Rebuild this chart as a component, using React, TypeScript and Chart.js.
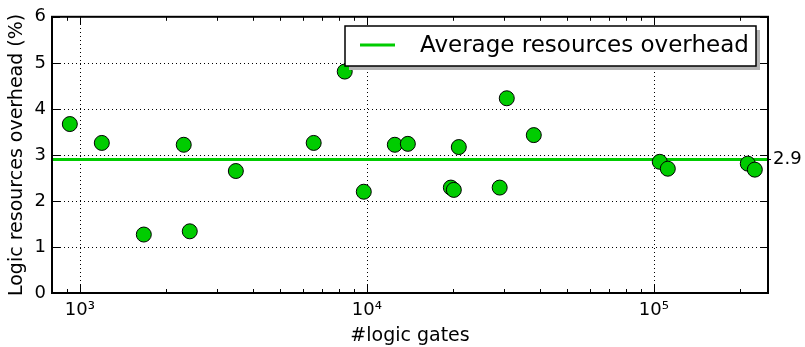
import React, { useEffect, useRef } from "react";
import { Chart, registerables } from "chart.js";

Chart.register(...registerables);

const gateCounts = [923, 1193, 1671, 2302, 2416, 3497, 6530, 8377, 9761, 12520, 13900, 19630, 20100, 20920, 29040, 30740, 38180, 104900, 111900, 212600, 224900];
const overheadPct = [3.67, 3.26, 1.27, 3.22, 1.34, 2.65, 3.26, 4.81, 2.2, 3.22, 3.24, 2.29, 2.24, 3.17, 2.29, 4.23, 3.43, 2.85, 2.7, 2.81, 2.68];
const averageOverhead = 2.9;
const xMajorTicks = [1000, 10000, 100000];
const xTickLabels = ["10³", "10⁴", "10⁵"];
const yTicks = [0, 1, 2, 3, 4, 5, 6];
const legendLabel = "Average resources overhead";
const xTitle = "#logic gates";
const yTitle = "Logic resources overhead (%)";
const X_MIN = 800;
const X_MAX = 250000;

const GREEN = "#00cc00";
const FONT = "DejaVu Sans";

const minorTicks: number[] = [];
for (let d = 2; d <= 5; d++) {
  for (let m = 2; m <= 9; m++) {
    const v = m * Math.pow(10, d);
    if (v > X_MIN && v < X_MAX) minorTicks.push(v);
  }
}

const framePlugin = {
  id: "framePlugin",
  beforeDatasetsDraw(chart: any) {
    const { ctx, chartArea, scales } = chart;
    const { left, right, top, bottom } = chartArea;
    ctx.save();
    ctx.strokeStyle = "#000";
    ctx.lineWidth = 1;
    ctx.setLineDash([1, 3]);
    ctx.beginPath();
    xMajorTicks.forEach((v) => {
      const px = Math.round(scales.x.getPixelForValue(v)) + 0.5;
      ctx.moveTo(px, bottom);
      ctx.lineTo(px, top);
    });
    yTicks.forEach((v) => {
      if (v === 0 || v === 6) return;
      const py = Math.round(scales.y.getPixelForValue(v)) + 0.5;
      ctx.moveTo(left, py);
      ctx.lineTo(right, py);
    });
    ctx.stroke();
    ctx.restore();
  },
  afterDatasetsDraw(chart: any) {
    const { ctx, chartArea } = chart;
    const { right } = chartArea;
    const bx = 345, by = 26, bw = right - 12 - 345, bh = 40;
    ctx.save();
    ctx.fillStyle = "#b3b3b3";
    ctx.fillRect(bx + 4, by + 4, bw, bh);
    ctx.fillStyle = "#ffffff";
    ctx.fillRect(bx, by, bw, bh);
    ctx.strokeStyle = "#000";
    ctx.lineWidth = 1.5;
    ctx.strokeRect(bx, by, bw, bh);
    ctx.strokeStyle = GREEN;
    ctx.lineWidth = 3;
    ctx.beginPath();
    ctx.moveTo(bx + 15, by + 19);
    ctx.lineTo(bx + 50, by + 19);
    ctx.stroke();
    ctx.fillStyle = "#000";
    ctx.font = `23px "${FONT}"`;
    ctx.textBaseline = "middle";
    ctx.textAlign = "left";
    ctx.fillText(legendLabel, bx + 75, by + 20);
    ctx.restore();
  },
  afterDraw(chart: any) {
    const { ctx, chartArea, scales } = chart;
    const { left, right, top, bottom } = chartArea;
    const xs = scales.x;
    const ys = scales.y;
    ctx.save();
    ctx.strokeStyle = "#000";
    ctx.lineWidth = 1;
    ctx.beginPath();
    xMajorTicks.forEach((v) => {
      const px = Math.round(xs.getPixelForValue(v)) + 0.5;
      ctx.moveTo(px, bottom); ctx.lineTo(px, bottom - 8);
      ctx.moveTo(px, top); ctx.lineTo(px, top + 8);
    });
    minorTicks.forEach((v) => {
      const px = Math.round(xs.getPixelForValue(v)) + 0.5;
      ctx.moveTo(px, bottom); ctx.lineTo(px, bottom - 4);
      ctx.moveTo(px, top); ctx.lineTo(px, top + 4);
    });
    yTicks.forEach((v) => {
      const py = Math.round(ys.getPixelForValue(v)) + 0.5;
      ctx.moveTo(left, py); ctx.lineTo(left + 8, py);
      ctx.moveTo(right, py); ctx.lineTo(right - 8, py);
    });
    ctx.stroke();
    ctx.lineWidth = 2;
    ctx.strokeRect(left, top, right - left, bottom - top);
    const ay = ys.getPixelForValue(averageOverhead);
    ctx.beginPath();
    ctx.lineWidth = 1;
    ctx.moveTo(right, ay); ctx.lineTo(right + 3, ay);
    ctx.stroke();
    ctx.fillStyle = "#000";
    ctx.font = `18px "${FONT}"`;
    ctx.textBaseline = "middle";
    ctx.textAlign = "left";
    ctx.fillText(averageOverhead.toFixed(1), right + 5, ay);
    ctx.restore();
  },
};

export default function App() {
  const ref = useRef<HTMLCanvasElement | null>(null);
  useEffect(() => {
    document.body.style.margin = "0";
    const canvas = ref.current!;
    const points = gateCounts.map((g, i) => ({ x: g, y: overheadPct[i] }));
    const chart = new Chart(canvas, {
      type: "scatter",
      data: {
        datasets: [
          {
            type: "scatter",
            label: "Designs",
            data: points,
            backgroundColor: GREEN,
            borderColor: "#000",
            borderWidth: 1,
            pointRadius: 7.5,
            order: 0,
          },
          {
            type: "line",
            label: legendLabel,
            data: [
              { x: X_MIN, y: averageOverhead },
              { x: X_MAX, y: averageOverhead },
            ],
            borderColor: GREEN,
            borderWidth: 3,
            pointRadius: 0,
            fill: false,
            order: 1,
          } as any,
        ],
      },
      options: {
        responsive: false,
        animation: false,
        events: [],
        layout: { padding: { top: 15, right: 37, left: 0, bottom: 0 } },
        plugins: { legend: { display: false }, tooltip: { enabled: false } },
        scales: {
          x: {
            type: "logarithmic",
            min: X_MIN,
            max: X_MAX,
            afterBuildTicks: (scale: any) => {
              scale.ticks = xMajorTicks.map((v) => ({ value: v, major: true }));
            },
            afterFit: (scale: any) => {
              scale.height = 54;
            },
            ticks: {
              autoSkip: false,
              maxRotation: 0,
              padding: 7,
              color: "#000",
              font: { family: FONT, size: 18 },
              callback: (v: any) => {
                const i = xMajorTicks.indexOf(Number(v));
                return i >= 0 ? xTickLabels[i] : "";
              },
            },
            grid: { display: false, drawTicks: false },
            border: { display: false },
            title: {
              display: true,
              text: xTitle,
              color: "#000",
              font: { family: FONT, size: 19 },
              padding: { top: 0, bottom: 0 },
            },
          },
          y: {
            min: 0,
            max: 6,
            afterBuildTicks: (scale: any) => {
              scale.ticks = yTicks.map((v) => ({ value: v }));
            },
            afterFit: (scale: any) => {
              scale.width = 52;
            },
            ticks: {
              padding: 6,
              color: "#000",
              font: { family: FONT, size: 18 },
            },
            grid: { display: false, drawTicks: false },
            border: { display: false },
            title: {
              display: true,
              text: yTitle,
              color: "#000",
              font: { family: FONT, size: 19 },
              padding: { top: 6, bottom: 0 },
            },
          },
        },
      },
      plugins: [framePlugin],
    } as any);
    return () => chart.destroy();
  }, []);
  return <canvas ref={ref} width={805} height={347} style={{ display: "block" }} />;
}
